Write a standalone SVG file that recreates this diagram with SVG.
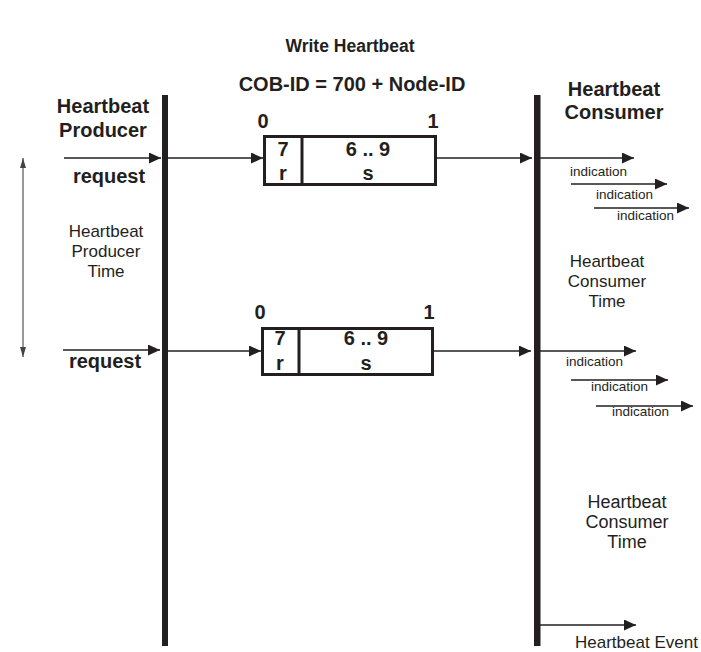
<svg xmlns="http://www.w3.org/2000/svg" width="701" height="652" viewBox="0 0 701 652">
<style>
text{font-family:"Liberation Sans",Arial,sans-serif;fill:#231f20}
.b{font-weight:bold;font-size:20px}
.n{font-size:17px}
.s{font-size:13.5px}
.ln{stroke:#231f20;stroke-width:1.4;fill:none}
.bar{fill:#231f20}
.box{fill:#fff;stroke:#231f20;stroke-width:3}
</style>
<defs>
<marker id="ah" markerUnits="userSpaceOnUse" markerWidth="12" markerHeight="11" refX="12" refY="5.5" orient="auto"><path d="M0,0L12,5.5L0,11z" fill="#231f20"/></marker>
<marker id="sm" markerUnits="userSpaceOnUse" markerWidth="10" markerHeight="6" refX="10" refY="3" orient="auto-start-reverse"><path d="M0,0L10,3L0,6z" fill="#444"/></marker>
</defs>
<g id="titles">
<text class="b" x="350" y="52" text-anchor="middle" style="font-size:17.5px">Write Heartbeat</text>
<text class="b" x="352" y="91" text-anchor="middle">COB-ID = 700 + Node-ID</text>
</g>
<g id="producer">
<rect class="bar" x="162" y="95" width="6" height="551"/>
<text class="b" x="103" y="113" text-anchor="middle">Heartbeat</text>
<text class="b" x="103" y="137" text-anchor="middle">Producer</text>
<text class="b" x="109" y="183" text-anchor="middle">request</text>
<text class="b" x="105" y="368" text-anchor="middle">request</text>
<text class="n" x="106" y="237" text-anchor="middle">Heartbeat</text>
<text class="n" x="106" y="257" text-anchor="middle">Producer</text>
<text class="n" x="106" y="277" text-anchor="middle">Time</text>
</g>
<g id="consumer">
<rect class="bar" x="534" y="95" width="6.5" height="551"/>
<text class="b" x="614" y="96" text-anchor="middle">Heartbeat</text>
<text class="b" x="614" y="119" text-anchor="middle">Consumer</text>
<text class="n" x="607" y="267" text-anchor="middle">Heartbeat</text>
<text class="n" x="607" y="287" text-anchor="middle">Consumer</text>
<text class="n" x="607" y="307" text-anchor="middle">Time</text>
<text class="n" x="627" y="508" text-anchor="middle" style="font-size:18px">Heartbeat</text>
<text class="n" x="627" y="528" text-anchor="middle" style="font-size:18px">Consumer</text>
<text class="n" x="627" y="548" text-anchor="middle" style="font-size:18px">Time</text>
<text class="s" x="570" y="176">indication</text>
<text class="s" x="596" y="199">indication</text>
<text class="s" x="617" y="220">indication</text>
<text class="s" x="566" y="366">indication</text>
<text class="s" x="591" y="391">indication</text>
<text class="s" x="612" y="416">indication</text>
<text class="n" x="575" y="648">Heartbeat Event</text>
</g>
<g id="frame1">
<text class="b" x="263" y="128" text-anchor="middle">0</text>
<text class="b" x="433" y="128" text-anchor="middle">1</text>
<rect class="box" x="264.5" y="136.5" width="171" height="48"/>
<line class="box" x1="302" y1="136.5" x2="302" y2="184.5"/>
<text class="b" x="283" y="156" text-anchor="middle">7</text>
<text class="b" x="283" y="180" text-anchor="middle">r</text>
<text class="b" x="368" y="156" text-anchor="middle">6 .. 9</text>
<text class="b" x="368" y="180" text-anchor="middle">s</text>
</g>
<g id="frame2">
<text class="b" x="260" y="319" text-anchor="middle">0</text>
<text class="b" x="429" y="319" text-anchor="middle">1</text>
<rect class="box" x="262.5" y="328.5" width="170" height="46"/>
<line class="box" x1="299" y1="328.5" x2="299" y2="374.5"/>
<text class="b" x="280" y="345" text-anchor="middle">7</text>
<text class="b" x="280" y="370" text-anchor="middle">r</text>
<text class="b" x="366" y="345" text-anchor="middle">6 .. 9</text>
<text class="b" x="366" y="370" text-anchor="middle">s</text>
</g>
<g id="connectors">
<line class="ln" x1="64" y1="158" x2="161" y2="158" marker-end="url(#ah)"/>
<line class="ln" x1="168" y1="158" x2="263" y2="158" marker-end="url(#ah)"/>
<line class="ln" x1="437" y1="158" x2="532" y2="158" marker-end="url(#ah)"/>
<line class="ln" x1="540" y1="158" x2="634" y2="158" marker-end="url(#ah)"/>
<line class="ln" x1="571" y1="184" x2="667" y2="184" marker-end="url(#ah)"/>
<line class="ln" x1="594" y1="208" x2="689" y2="208" marker-end="url(#ah)"/>
<line class="ln" x1="63" y1="350" x2="160" y2="350" marker-end="url(#ah)"/>
<line class="ln" x1="168" y1="351" x2="261" y2="351" marker-end="url(#ah)"/>
<line class="ln" x1="434" y1="351" x2="531" y2="351" marker-end="url(#ah)"/>
<line class="ln" x1="540" y1="351" x2="636" y2="351" marker-end="url(#ah)"/>
<line class="ln" x1="571" y1="380" x2="668" y2="380" marker-end="url(#ah)"/>
<line class="ln" x1="596" y1="406" x2="693" y2="406" marker-end="url(#ah)"/>
<line class="ln" x1="540" y1="625" x2="636" y2="625" marker-end="url(#ah)"/>
<line x1="23" y1="158" x2="23" y2="357" stroke="#555" stroke-width="1.2" marker-start="url(#sm)" marker-end="url(#sm)"/>
</g>
</svg>
